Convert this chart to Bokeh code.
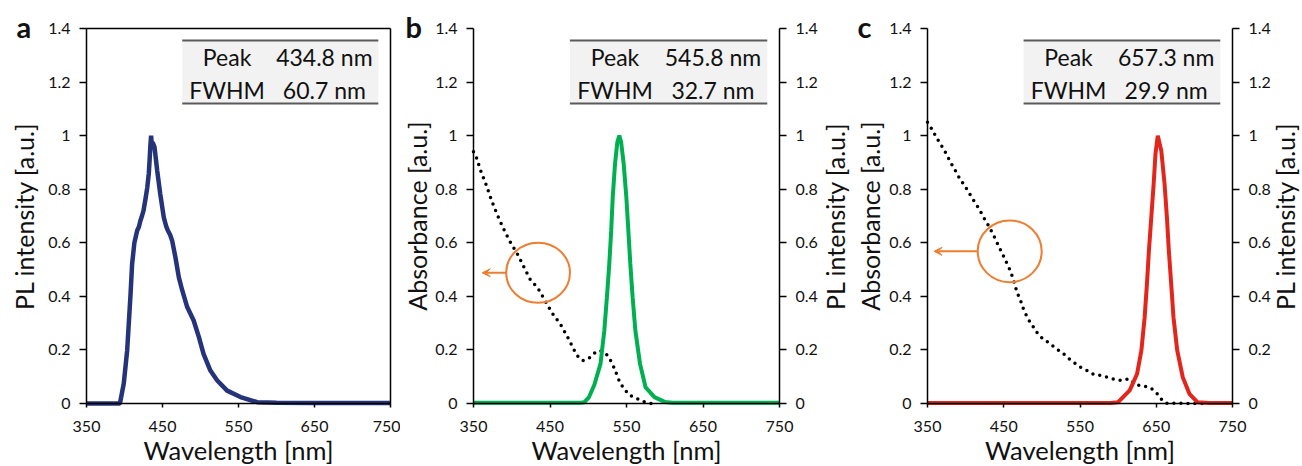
import math
from bokeh.plotting import figure
from bokeh.layouts import row
from bokeh.models import Range1d, LinearAxis, Label, Arrow, VeeHead, FixedTicker
from bokeh.embed import file_html
from bokeh.resources import INLINE

# ---------------- data ----------------
x_ticks = [350, 450, 550, 650, 750]
y_ticks = [0, 0.2, 0.4, 0.6, 0.8, 1.0, 1.2, 1.4]
x_lim = (350, 750)
y_lim = (0, 1.4)

# panel a : PL (blue)
wl_a = [350, 390, 394, 399, 403.5, 408, 410, 413, 416.7, 419, 421, 423, 425, 428, 430, 432, 433,
        434, 435, 436, 437, 439.5, 443, 447, 451.7, 455, 457, 460, 462.7, 467, 471.5, 476,
        482.5, 491, 498, 504, 513, 522, 535, 552.6, 574.6, 600, 650, 700, 750]
pl_a = [0, 0, 0.0, 0.074, 0.198, 0.41, 0.52, 0.60, 0.646, 0.66, 0.683, 0.70, 0.72, 0.77, 0.807,
        0.86, 0.907, 0.96, 1.0, 0.96, 0.975, 0.957, 0.87, 0.783, 0.695, 0.66, 0.646, 0.63, 0.608,
        0.546, 0.471, 0.422, 0.36, 0.31, 0.247, 0.185, 0.123, 0.086, 0.048, 0.024, 0.005, 0.003,
        0.002, 0.002, 0.002]

# panel b : absorbance (dotted) + PL (green)
wl_b_abs = [350, 352.6, 359, 366.6, 373.6, 381, 389, 397, 408, 417, 424.8, 433.5, 443.5, 453,
            464, 473.7, 482.5, 488, 493.4, 501, 508.7, 515.7, 524, 529.7, 534, 541.5, 547, 553,
            559.5, 566.8, 574, 581, 590]
abs_b = [0.94, 0.93, 0.872, 0.816, 0.758, 0.705, 0.654, 0.608, 0.555, 0.503, 0.459, 0.434,
         0.384, 0.337, 0.294, 0.244, 0.194, 0.169, 0.16, 0.169, 0.189, 0.198, 0.183, 0.158,
         0.132, 0.077, 0.055, 0.032, 0.024, 0.014, 0.005, 0.0, 0.0]
wl_b_pl = [350, 490, 495, 501, 508, 516, 521, 524.4, 527.5, 530, 532, 535, 538, 540.6, 543,
           546.3, 549.8, 552.4, 555, 558, 561.6, 567.7, 575, 586.5, 600, 610, 750]
pl_b = [0.003, 0.003, 0.005, 0.024, 0.07, 0.148, 0.272, 0.397, 0.521, 0.646, 0.77, 0.895,
        0.975, 1.0, 0.975, 0.895, 0.77, 0.646, 0.521, 0.397, 0.272, 0.148, 0.06, 0.024, 0.006,
        0.003, 0.003]

# panel c : absorbance (dotted) + PL (red)
wl_c_abs = [350, 355.6, 360.8, 366, 371.7, 381.3, 387, 392, 397.7, 403.4, 408.6, 414.3, 419.5,
            424.8, 430, 435.2, 439.5, 444, 448.7, 453, 457.4, 461.3, 464.3, 467.4, 471.7, 474.8,
            479.2, 484, 490, 495.6, 503, 510.9, 518.7, 527, 534.7, 542.6, 551, 559.5, 568.3,
            577, 585.6, 595.7, 604.4, 614.3, 623, 631.8, 640.4, 649.2, 655.3, 663, 710]
abs_c = [1.05, 1.025, 0.998, 0.973, 0.947, 0.895, 0.867, 0.841, 0.817, 0.792, 0.766, 0.742,
         0.717, 0.689, 0.664, 0.636, 0.611, 0.583, 0.556, 0.53, 0.503, 0.474, 0.447, 0.415,
         0.388, 0.36, 0.332, 0.306, 0.281, 0.256, 0.238, 0.223, 0.204, 0.189, 0.169, 0.152,
         0.135, 0.123, 0.108, 0.105, 0.098, 0.09, 0.086, 0.092, 0.071, 0.065, 0.061, 0.045,
         0.02, 0.001, 0.0]
wl_c_pl = [350, 590, 600, 615.2, 624.8, 630.5, 634.8, 637.8, 640.4, 643.5, 646.6, 649, 652,
           656.6, 660.9, 664, 666.5, 669.6, 672.6, 677.5, 684.8, 693.5, 704, 720, 750]
pl_c = [0.002, 0.002, 0.005, 0.049, 0.11, 0.198, 0.322, 0.447, 0.571, 0.695, 0.82, 0.932, 1.0,
        0.944, 0.82, 0.695, 0.571, 0.447, 0.322, 0.198, 0.098, 0.036, 0.005, 0.002, 0.002]

table_rows = ["Peak", "FWHM"]
table_a = ["434.8 nm", "60.7 nm"]
table_b = ["545.8 nm", "32.7 nm"]
table_c = ["657.3 nm", "29.9 nm"]

# ---------------- layout (page pixels) ----------------
H = 466
TOP, BOTTOM = 28, 403            # page y of 1.4 and of 0
FONT = "Lato"
NAVY = "#24337A"
GREEN = "#00B050"
RED = "#E3261C"
ORANGE = "#ED7D31"
TXT = "#111111"


class Panel:
    def __init__(self, left, width, plot_l, plot_r):
        self.left, self.width = left, width
        self.sx = (plot_r - plot_l) / (x_lim[1] - x_lim[0])
        self.sy = (BOTTOM - TOP) / (y_lim[1] - y_lim[0])
        self.pl = plot_l - left            # plot-area left, canvas px
        self.pr = plot_r - left
        x0 = x_lim[0] - self.pl / self.sx
        x1 = x_lim[1] + (width - self.pr) / self.sx
        y0 = y_lim[0] - (H - BOTTOM) / self.sy
        y1 = y_lim[1] + TOP / self.sy
        p = figure(width=width, height=H, output_backend="svg", toolbar_location=None,
                   x_range=Range1d(x0, x1), y_range=Range1d(y0, y1),
                   x_axis_location=None, y_axis_location=None,
                   min_border=0, min_border_left=0, min_border_right=0,
                   min_border_top=0, min_border_bottom=0,
                   background_fill_color="white", border_fill_color="white")
        p.grid.visible = False
        p.outline_line_color = None
        self.p = p

    def X(self, page_x):
        return x_lim[0] + (page_x - self.left - self.pl) / self.sx

    def Y(self, page_y):
        return y_lim[0] + (BOTTOM - page_y) / self.sy


def style_axis(ax, ticks, tick_out, standoff):
    ax.ticker = FixedTicker(ticks=ticks)
    ax.axis_line_width = 1.5
    ax.axis_line_color = "black"
    ax.major_tick_line_width = 1.5
    ax.major_tick_line_color = "black"
    ax.minor_tick_line_color = None
    ax.major_tick_in = 0
    ax.major_tick_out = tick_out
    ax.major_label_standoff = standoff
    ax.major_label_text_font = FONT
    ax.major_label_text_font_size = "16px"
    ax.major_label_text_color = TXT
    ax.major_label_overrides = {0: "0", 1.0: "1"}


def add_axes(pan, right_axis, box):
    p = pan.p
    xa = LinearAxis(fixed_location=y_lim[0], bounds=x_lim)
    style_axis(xa, x_ticks, 4, 13)
    p.add_layout(xa, "below")
    ya = LinearAxis(fixed_location=x_lim[0], bounds=y_lim)
    style_axis(ya, y_ticks, 7, 9)
    p.add_layout(ya, "left")
    if right_axis:
        ra = LinearAxis(fixed_location=x_lim[1], bounds=y_lim)
        style_axis(ra, y_ticks, 7, 9)
        p.add_layout(ra, "right")
    if box:
        ra = LinearAxis(fixed_location=x_lim[1], bounds=y_lim)
        style_axis(ra, [], 0, 0)
        p.add_layout(ra, "right")
        ta = LinearAxis(fixed_location=y_lim[1], bounds=x_lim)
        style_axis(ta, [], 0, 0)
        p.add_layout(ta, "above")


def text(p, s, x, y, size, angle=0.0, align="center", bold=False):
    p.add_layout(Label(x=x, y=y, text=s, angle=angle,
                       text_font=FONT, text_font_size=size, text_align=align,
                       text_baseline="middle", text_color=TXT,
                       text_font_style="bold" if bold else "normal"))


def table(pan, vals):
    p = pan.p
    p.quad(left=[476], right=[734], bottom=[1.12], top=[1.355], fill_color="#F2F2F2",
           line_color=None)
    p.segment(x0=[476, 476], x1=[734, 734], y0=[1.355, 1.12], y1=[1.355, 1.12],
              line_color="#5A5A5A", line_width=2)
    for lab, v, yy in zip(table_rows, vals, [1.293, 1.171]):
        text(p, lab, 535, yy, "23px")
        text(p, v, 663, yy, "23px")


def titles(pan, letter, letter_px, left_title, left_px, right_px=None):
    # positions are the page-pixel centres of the glyphs in the reference
    p = pan.p
    text(p, letter, pan.X(letter_px), pan.Y(26.3), "29px", align="left", bold=True)
    text(p, "Wavelength [nm]", sum(x_lim) / 2, pan.Y(449.5), "25.5px")
    text(p, left_title, pan.X(left_px), 0.7, "25px", angle=math.pi / 2)
    if right_px is not None:
        text(p, "PL intensity [a.u.]", pan.X(right_px), 0.7, "25px", angle=math.pi / 2)


def annotate(p, cx, cy, w, h, x0, x1):
    p.ellipse(x=[cx], y=[cy], width=w, height=h, fill_color=None, line_color=ORANGE,
              line_width=2)
    p.add_layout(Arrow(end=VeeHead(size=8, fill_color=ORANGE, line_color=ORANGE),
                       x_start=x0, y_start=cy, x_end=x1, y_end=cy,
                       line_color=ORANGE, line_width=2))


# ---------------- panel a ----------------
A = Panel(0, 400, 86, 390)
add_axes(A, False, True)
A.p.line(wl_a, pl_a, line_color=NAVY, line_width=4.5)
table(A, table_a)
titles(A, "a", 16, "PL intensity [a.u.]", 23.2)

# ---------------- panel b ----------------
B = Panel(400, 450, 473, 779)
add_axes(B, True, False)
B.p.line(wl_b_abs, abs_b, line_color="black", line_width=3.5, line_dash="0 7", line_cap="round")
B.p.line(wl_b_pl, pl_b, line_color=GREEN, line_width=4)
annotate(B.p, 434.4, 0.488, 83.4, 0.224, 392.9, 361.4)
table(B, table_b)
titles(B, "b", 405, "Absorbance [a.u.]", 416.5, 834.9)

# ---------------- panel c ----------------
C = Panel(850, 452, 927, 1232)
add_axes(C, True, False)
C.p.line(wl_c_abs, abs_c, line_color="black", line_width=3.5, line_dash="0 7", line_cap="round")
C.p.line(wl_c_pl, pl_c, line_color=RED, line_width=4)
annotate(C.p, 457.8, 0.568, 83.9, 0.23, 416, 358.6)
table(C, table_c)
titles(C, "c", 857, "Absorbance [a.u.]", 869.9, 1284.9)

layout = row(A.p, B.p, C.p)
open("out.html", "w").write(file_html(layout, INLINE))
